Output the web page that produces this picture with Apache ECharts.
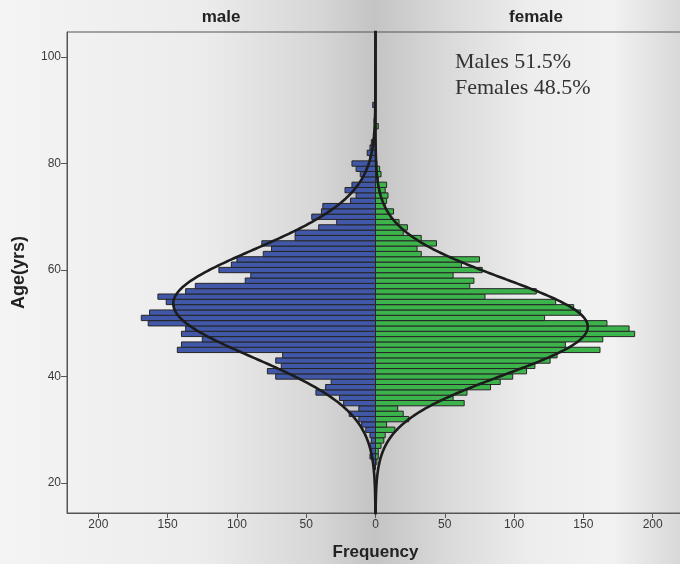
<!DOCTYPE html>
<html>
<head>
<meta charset="utf-8">
<script src="https://cdn.jsdelivr.net/npm/echarts@6/dist/echarts.min.js"></script>
<style>
  html, body { margin: 0; padding: 0; width: 680px; height: 564px; overflow: hidden; }
  body {
    background: linear-gradient(to right,
      #f4f4f4 0%, #ececec 30%, #d6d6d6 47%, #c4c4c4 55%, #dadada 66%,
      #ededed 78%, #f2f2f2 90%, #d8d8d8 100%);
  }
  #chart { width: 680px; height: 564px; }
</style>
</head>
<body>
<div id="chart"></div>
<script>
// One-year age bins (bin centre) and counts per sex
const ages = [23, 24, 25, 26, 27, 28, 29, 30, 31, 32, 33, 34, 35, 36, 37, 38, 39,
  40, 41, 42, 43, 44, 45, 46, 47, 48, 49, 50, 51, 52, 53, 54, 55, 56, 57, 58, 59,
  60, 61, 62, 63, 64, 65, 66, 67, 68, 69, 70, 71, 72, 73, 74, 75, 76, 77, 78, 79,
  80, 81, 82, 83, 84, 85, 86, 87, 88, 89, 90, 91];

const maleCounts = [1, 2, 4, 3, 4, 3, 4, 7, 10, 12, 19, 12, 23, 26, 43, 36, 32,
  72, 78, 68, 72, 67, 143, 140, 125, 140, 137, 164, 169, 163, 145, 151, 157, 137, 130, 94, 90,
  113, 104, 100, 81, 75, 82, 58, 58, 41, 28, 46, 39, 38, 18, 14, 22, 17, 10, 11, 14,
  17, 4, 6, 4, 3, 1, 0, 0, 1, 0, 0, 2];

const femaleCounts = [0, 1, 2, 2, 4, 6, 7, 14, 8, 24, 20, 16, 64, 56, 66, 83, 90,
  99, 109, 115, 126, 131, 162, 137, 164, 187, 183, 167, 122, 148, 143, 130, 79, 116, 68, 71, 56,
  77, 62, 75, 33, 30, 44, 33, 20, 23, 17, 11, 13, 7, 8, 9, 7, 8, 2, 4, 3,
  1, 0, 0, 0, 0, 0, 0, 2, 0, 0, 0, 0];

const freqTicks = [-200, -150, -100, -50, 0, 50, 100, 150, 200];
const ageTicks = [20, 40, 60, 80, 100];
const panelTitles = ['male', 'female'];
const shareLines = ['Males 51.5%', 'Females 48.5%'];

const BIN = 1;
const SANS = 'Liberation Sans, Arial, sans-serif';

// Normal curve scaled to the histogram: n * bin * pdf(age)
function normalCurve(counts, sign) {
  let n = 0, s = 0;
  counts.forEach((c, i) => { n += c; s += c * ages[i]; });
  const mean = s / n;
  let ss = 0;
  counts.forEach((c, i) => { ss += c * (ages[i] - mean) * (ages[i] - mean); });
  const sd = Math.sqrt(ss / (n - 1));
  const pts = [];
  for (let a = 14; a <= 105.001; a += 0.2) {
    const z = (a - mean) / sd;
    const f = n * BIN * Math.exp(-0.5 * z * z) / (sd * Math.sqrt(2 * Math.PI));
    pts.push([sign * f, a]);
  }
  return pts;
}

function barSeries(name, counts, sign, fill) {
  return {
    name: name,
    type: 'custom',
    data: counts.map((c, i) => [sign * c, ages[i]]),
    encode: { x: 0, y: 1 },
    z: 2,
    renderItem: function (params, api) {
      const v = api.value(0), a = api.value(1);
      if (!v) return null;
      const p0 = api.coord([0, a + BIN / 2]);
      const p1 = api.coord([v, a - BIN / 2]);
      return {
        type: 'rect',
        shape: {
          x: Math.min(p0[0], p1[0]),
          y: p0[1],
          width: Math.abs(p1[0] - p0[0]),
          height: p1[1] - p0[1]
        },
        style: { fill: fill, stroke: '#262626', lineWidth: 1 }
      };
    }
  };
}

const chart = echarts.init(document.getElementById('chart'), null, { renderer: 'canvas' });

const tickFont = { color: '#3a3a3a', fontSize: 12, fontFamily: SANS };

chart.setOption({
  backgroundColor: 'transparent',
  animation: false,
  grid: {
    left: 67, top: 32, width: 617, height: 481,
    outerBoundsMode: 'none',
    containLabel: false,
    show: true, borderColor: '#555', borderWidth: 1, backgroundColor: 'transparent'
  },
  xAxis: {
    type: 'value',
    min: -222.6, max: 222.6,
    name: 'Frequency',
    nameLocation: 'middle',
    nameGap: 31,
    nameTextStyle: { fontSize: 17, fontWeight: 'bold', color: '#222', fontFamily: SANS },
    axisLine: { show: true, onZero: false, lineStyle: { color: '#555', width: 1 } },
    axisTick: { show: true, length: 5, customValues: freqTicks, lineStyle: { color: '#555' } },
    axisLabel: Object.assign({ customValues: freqTicks, margin: 6, formatter: v => String(Math.abs(v)) }, tickFont),
    splitLine: { show: false }
  },
  yAxis: {
    type: 'value',
    min: 14.37, max: 104.7,
    name: 'Age(yrs)',
    nameLocation: 'middle',
    nameRotate: 90,
    nameGap: 39,
    nameTextStyle: { fontSize: 18, fontWeight: 'bold', color: '#222', fontFamily: SANS },
    axisLine: { show: true, onZero: false, lineStyle: { color: '#555', width: 1 } },
    axisTick: { show: true, length: 6, customValues: ageTicks, lineStyle: { color: '#555' } },
    axisLabel: Object.assign({ customValues: ageTicks, margin: 6 }, tickFont),
    splitLine: { show: false }
  },
  series: [
    barSeries('male', maleCounts, -1, '#4157a8'),
    barSeries('female', femaleCounts, 1, '#3db34c'),
    {
      name: 'male normal', type: 'line', data: normalCurve(maleCounts, -1),
      showSymbol: false, smooth: false, z: 5,
      lineStyle: { color: '#1c1c1c', width: 2.6 }
    },
    {
      name: 'female normal', type: 'line', data: normalCurve(femaleCounts, 1),
      showSymbol: false, smooth: false, z: 5,
      lineStyle: { color: '#1c1c1c', width: 2.6 }
    }
  ],
  graphic: [
    { type: 'text', x: 221, y: 17, style: { text: panelTitles[0], fill: '#222', font: 'bold 17px ' + SANS, textAlign: 'center', textVerticalAlign: 'middle' } },
    { type: 'text', x: 536, y: 17, style: { text: panelTitles[1], fill: '#222', font: 'bold 17px ' + SANS, textAlign: 'center', textVerticalAlign: 'middle' } },
    { type: 'text', x: 455, y: 62, style: { text: shareLines[0], fill: '#333', font: '22px Liberation Serif, Times New Roman, serif', textVerticalAlign: 'middle' } },
    { type: 'text', x: 455, y: 88, style: { text: shareLines[1], fill: '#333', font: '22px Liberation Serif, Times New Roman, serif', textVerticalAlign: 'middle' } }
  ]
});
</script>
</body>
</html>
